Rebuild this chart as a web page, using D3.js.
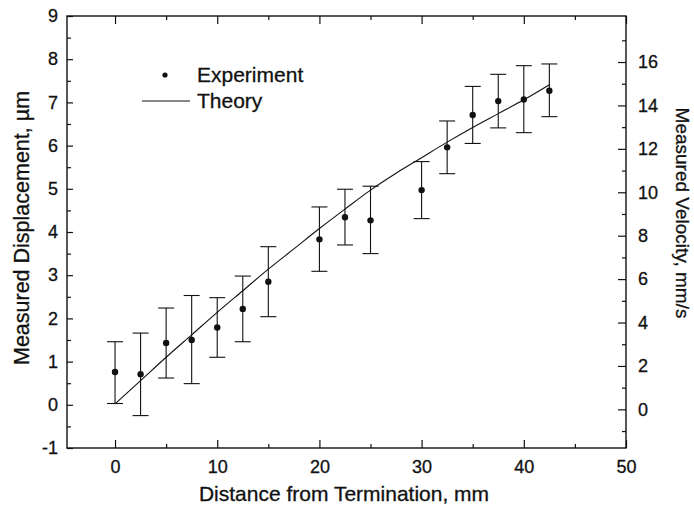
<!DOCTYPE html>
<html>
<head>
<meta charset="utf-8">
<script src="https://cdn.jsdelivr.net/npm/d3@7"></script>
<style>
  body { margin: 0; background: #fff; }
  svg text { font-family: "Liberation Sans", Arial, Helvetica, sans-serif; fill: #111; stroke: #111; stroke-width: 0.3px; }
</style>
</head>
<body>
<div id="chart"></div>
<script>
// measured points, mm / µm
const distance = [0, 2.5, 5, 7.5, 10, 12.5, 15, 20, 22.5, 25, 30, 32.5, 35, 37.5, 40, 42.5];
const displacement = [0.76, 0.71, 1.43, 1.50, 1.79, 2.22, 2.85, 3.83, 4.34, 4.27, 4.97, 5.96, 6.71, 7.03, 7.07, 7.27];
const errHigh = [1.46, 1.66, 2.24, 2.53, 2.48, 2.98, 3.66, 4.58, 4.99, 5.06, 5.63, 6.57, 7.37, 7.65, 7.85, 7.89];
const errLow = [0.03, -0.25, 0.62, 0.49, 1.10, 1.46, 2.04, 3.09, 3.70, 3.50, 4.31, 5.35, 6.05, 6.41, 6.30, 6.67];

// theory curve
const theoryX = [0, 2.5, 5, 7.5, 10, 12.5, 15, 17.5, 20, 22.5, 25, 27.5, 30, 32.5, 35, 37.5, 40, 42.5];
const theoryY = [0.02, 0.56, 1.10, 1.62, 2.14, 2.64, 3.14, 3.61, 4.08, 4.53, 4.97, 5.36, 5.72, 6.08, 6.42, 6.74, 7.06, 7.41];

// ticks
const xMajor = [0, 10, 20, 30, 40, 50];
const xMinor = [5, 15, 25, 35, 45];
const yMajor = [-1, 0, 1, 2, 3, 4, 5, 6, 7, 8, 9];
const yMinor = [-0.5, 0.5, 1.5, 2.5, 3.5, 4.5, 5.5, 6.5, 7.5, 8.5];
const vMajor = [0, 2, 4, 6, 8, 10, 12, 14, 16];
const vMinor = [-1, 1, 3, 5, 7, 9, 11, 13, 15, 17];

const W = 694, H = 509;
const margin = {left: 67, top: 16, right: 68, bottom: 61};
const width = W - margin.left - margin.right;
const height = H - margin.top - margin.bottom;

const svg = d3.select("#chart")
  .append("svg")
  .attr("width", W)
  .attr("height", H);

const g = svg.append("g")
  .attr("transform", "translate(" + margin.left + "," + margin.top + ")");

const x = d3.scaleLinear().domain([-4.7, 50]).range([0, width]);
const y = d3.scaleLinear().domain([-1, 9]).range([height, 0]);
const yR = d3.scaleLinear().domain([-1.78, 18.12]).range([height, 0]);

const plain = d => String(d);

function styleAxis(sel) {
  sel.select(".domain").remove();
  sel.selectAll("line").attr("stroke", "#111").attr("stroke-width", 1.2);
  sel.selectAll("text").style("font-size", "18px").attr("fill", "#111");
}

// bottom
g.append("g").attr("transform", "translate(0," + height + ")")
  .call(d3.axisBottom(x).tickValues(xMajor).tickSize(-8).tickPadding(12).tickFormat(plain))
  .call(styleAxis);
g.append("g").attr("transform", "translate(0," + height + ")")
  .call(d3.axisBottom(x).tickValues(xMinor).tickSize(-4).tickFormat(""))
  .call(styleAxis);
// top
g.append("g")
  .call(d3.axisTop(x).tickValues(xMajor).tickSize(-8).tickFormat(""))
  .call(styleAxis);
g.append("g")
  .call(d3.axisTop(x).tickValues(xMinor).tickSize(-4).tickFormat(""))
  .call(styleAxis);
// left
g.append("g")
  .call(d3.axisLeft(y).tickValues(yMajor).tickSize(-6).tickPadding(9).tickFormat(plain))
  .call(styleAxis);
g.append("g")
  .call(d3.axisLeft(y).tickValues(yMinor).tickSize(-4).tickFormat(""))
  .call(styleAxis);
// right
g.append("g").attr("transform", "translate(" + width + ",0)")
  .call(d3.axisRight(yR).tickValues(vMajor).tickSize(-8).tickPadding(12).tickFormat(plain))
  .call(styleAxis);
g.append("g").attr("transform", "translate(" + width + ",0)")
  .call(d3.axisRight(yR).tickValues(vMinor).tickSize(-4).tickFormat(""))
  .call(styleAxis);

// frame
g.append("rect")
  .attr("width", width)
  .attr("height", height)
  .attr("fill", "none")
  .attr("stroke", "#111")
  .attr("stroke-width", 1.4);

// theory line
const theory = theoryX.map((d, i) => ({x: d, y: theoryY[i]}));
g.append("path")
  .datum(theory)
  .attr("fill", "none")
  .attr("stroke", "#111")
  .attr("stroke-width", 1.1)
  .attr("d", d3.line().x(d => x(d.x)).y(d => y(d.y)).curve(d3.curveMonotoneX));

// error bars + dots
const pts = distance.map((d, i) => ({x: d, y: displacement[i], hi: errHigh[i], lo: errLow[i]}));
const bars = g.append("g").attr("stroke", "#111").attr("stroke-width", 1.1);
bars.selectAll(".v").data(pts).enter().append("line")
  .attr("x1", d => x(d.x)).attr("x2", d => x(d.x))
  .attr("y1", d => y(d.hi)).attr("y2", d => y(d.lo));
bars.selectAll(".t").data(pts).enter().append("line")
  .attr("x1", d => x(d.x) - 8).attr("x2", d => x(d.x) + 8)
  .attr("y1", d => y(d.hi)).attr("y2", d => y(d.hi));
bars.selectAll(".b").data(pts).enter().append("line")
  .attr("x1", d => x(d.x) - 8).attr("x2", d => x(d.x) + 8)
  .attr("y1", d => y(d.lo)).attr("y2", d => y(d.lo));

g.append("g").selectAll("circle")
  .data(pts)
  .enter()
  .append("circle")
  .attr("cx", d => x(d.x))
  .attr("cy", d => y(d.y))
  .attr("r", 3.2)
  .attr("fill", "#111");

// legend
const leg = svg.append("g");
leg.append("circle").attr("cx", 165).attr("cy", 75).attr("r", 2.6).attr("fill", "#111");
leg.append("text").attr("x", 197).attr("y", 82).style("font-size", "21px").text("Experiment");
leg.append("line").attr("x1", 142).attr("x2", 190).attr("y1", 101).attr("y2", 101)
  .attr("stroke", "#111").attr("stroke-width", 1.1);
leg.append("text").attr("x", 197).attr("y", 108).style("font-size", "21px").text("Theory");

// axis titles
svg.append("text")
  .attr("x", 344).attr("y", 501)
  .attr("text-anchor", "middle")
  .style("font-size", "21px")
  .text("Distance from Termination, mm");

svg.append("text")
  .attr("transform", "translate(29,228) rotate(-90)")
  .attr("text-anchor", "middle")
  .style("font-size", "21.5px")
  .text("Measured Displacement, µm");

svg.append("text")
  .attr("transform", "translate(676,213) rotate(90)")
  .attr("text-anchor", "middle")
  .style("font-size", "19px")
  .text("Measured Velocity, mm/s");
</script>
</body>
</html>
